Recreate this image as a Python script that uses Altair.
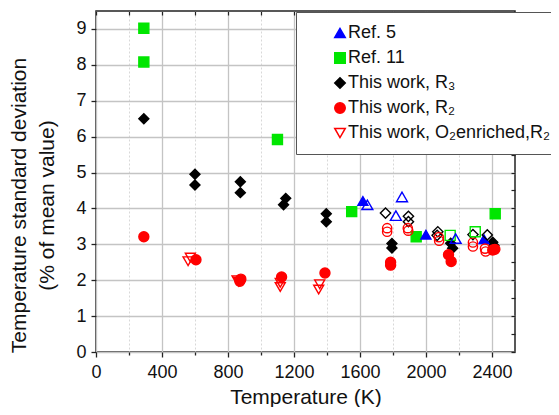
import altair as alt
import pandas as pd

# ---------------- data ----------------
S_REF5 = "Ref. 5"
S_REF11 = "Ref. 11"
S_R3 = "This work, R₃"
S_R2 = "This work, R₂"
S_O2 = "This work, O₂enriched,R₂"

# filled black diamonds (This work, R3)
r3_T = [290, 600, 600, 875, 875, 1150, 1137, 1396, 1396, 1794, 1794, 2150, 2162, 2405, 2412]
r3_v = [6.5, 4.95, 4.65, 4.74, 4.44, 4.28, 4.10, 3.85, 3.63, 3.02, 2.90, 3.03, 2.89, 3.06, 2.97]
# open black diamonds
r3o_T = [1755, 1894, 1894, 2072, 2068, 2285, 2372]
r3o_v = [3.87, 3.78, 3.63, 3.35, 3.25, 3.27, 3.26]
# open red circles
r2o_T = [1765, 1765, 1890, 1893, 2078, 2080, 2285, 2285, 2358, 2362]
r2o_v = [3.45, 3.35, 3.45, 3.38, 3.20, 3.10, 3.05, 2.94, 2.88, 2.80]
# filled red circles (This work, R2)
r2_T = [290, 606, 878, 872, 1125, 1388, 1786, 1786, 2137, 2153, 2405, 2418]
r2_v = [3.21, 2.57, 2.03, 1.97, 2.09, 2.20, 2.50, 2.42, 2.71, 2.52, 2.84, 2.86]
# open red down-triangles (O2 enriched, R2)
o2_T = [572, 558, 855, 865, 1117, 1117, 1356, 1350]
o2_v = [2.63, 2.53, 2.00, 1.96, 1.93, 1.81, 1.89, 1.74]
# filled green squares (Ref. 11)
ref11_T = [290, 290, 1100, 1550, 1941, 2420]
ref11_v = [9.02, 8.08, 5.92, 3.91, 3.21, 3.85]
# open green squares
ref11o_T = [2147, 2299]
ref11o_v = [3.25, 3.35]
# open blue triangles
ref5o_T = [1645, 1855, 1818, 2180]
ref5o_v = [4.10, 4.32, 3.80, 3.16]
# filled blue triangles (Ref. 5)
ref5_T = [1618, 2000, 2352]
ref5_v = [4.21, 3.27, 3.14]

legend_series = [S_REF5, S_REF11, S_R3, S_R2, S_O2]
legend_shapes = ["triangle-up", "square", "diamond", "circle", "triangle-down"]
legend_strokes = ["#0000ff", "#00e600", "#000000", "#ff0000", "#ff0000"]
legend_fills = ["#0000ff", "#00e600", "#000000", "#ff0000", "transparent"]

x_ticks = list(range(0, 2600, 200))
y_ticks = [i * 0.5 for i in range(0, 19)]

# ---------------- tables ----------------
def table(Ts, vs, name):
    return pd.DataFrame({"T": Ts, "v": vs, "series": [name] * len(Ts)})

df_legend = pd.concat([
    table(r3_T, r3_v, S_R3), table(r2_T, r2_v, S_R2), table(o2_T, o2_v, S_O2),
    table(ref11_T, ref11_v, S_REF11), table(ref5_T, ref5_v, S_REF5),
], ignore_index=True)

xscale = alt.Scale(domain=[0, 2540], nice=False, zero=False)
yscale = alt.Scale(domain=[0, 9.5], nice=False, zero=False)

x_major = "datum.value % 400 === 0"
y_major = "datum.value % 1 === 0"

x_axis = alt.Axis(
    values=x_ticks, format="d",
    labelExpr=f"{x_major} ? datum.label : ''",
    grid=True,
    gridColor={"condition": {"test": x_major, "value": "#c4c4c4"}, "value": "#d8d8d8"},
    gridDash={"condition": {"test": x_major, "value": []}, "value": [2, 2]},
    gridWidth={"condition": {"test": x_major, "value": 1.3}, "value": 1},
    tickSize={"condition": {"test": x_major, "value": 5}, "value": 3},
    tickColor="#222", tickWidth=1.3, domain=False,
    labelFont="Liberation Sans", labelFontSize=18, labelColor="#111",
    labelPadding=6, labelFlush=False, labelOverlap=False,
    title="Temperature (K)", titleFont="Liberation Sans", titleFontSize=21,
    titleFontWeight="normal", titleColor="#111",
    titleY=51, titleBaseline="alphabetic",
)
y_axis = alt.Axis(
    values=y_ticks, format="d",
    labelExpr=f"{y_major} ? datum.label : ''",
    grid=True,
    gridColor={"condition": {"test": y_major, "value": "#c4c4c4"}, "value": "#d8d8d8"},
    gridDash={"condition": {"test": y_major, "value": []}, "value": [2, 2]},
    gridWidth={"condition": {"test": y_major, "value": 1.3}, "value": 1},
    tickSize={"condition": {"test": y_major, "value": 5}, "value": 3},
    tickColor="#222", tickWidth=1.3, domain=False,
    labelFont="Liberation Sans", labelFontSize=18, labelColor="#111",
    labelPadding=5, labelFlush=False, labelOverlap=False,
    title=["Temperature standard deviation", "(% of mean value)"],
    titleFont="Liberation Sans", titleFontSize=21, titleFontWeight="normal",
    titleColor="#111", titleLineHeight=28, titleX=-67, titleY=194,
)

legend = alt.Legend(
    title=None, orient="none", legendX=200, legendY=1,
    fillColor="white", strokeColor="#555", padding=12, symbolOffset=23,
    labelOffset={"expr": "-1"}, rowPadding=7, labelFont="Liberation Sans",
    labelFontSize=18, labelColor="#111", symbolSize=110,
    symbolStrokeWidth=1.5, labelLimit=400,
)

X = alt.X("T:Q", scale=xscale, axis=x_axis)
Y = alt.Y("v:Q", scale=yscale, axis=y_axis)


def open_layer(Ts, vs, name, shape, color, size):
    return alt.Chart(table(Ts, vs, name)).mark_point(
        shape=shape, stroke=color, fill="transparent", filled=False,
        size=size, strokeWidth=1.4, opacity=1,
    ).encode(x=X, y=Y)


open_r3 = open_layer(r3o_T, r3o_v, "open R3", "diamond", "#000000", 105)
open_r2 = open_layer(r2o_T, r2o_v, "open R2", "circle", "#ff0000", 85)
open_11 = open_layer(ref11o_T, ref11o_v, "open Ref11", "square", "#00e600", 100)
open_5 = open_layer(ref5o_T, ref5o_v, "open Ref5", "triangle-up", "#0000ff", 120)

filled = alt.Chart(df_legend).mark_point(
    opacity=1, strokeWidth=1.4, size=100
).encode(
    x=X, y=Y,
    shape=alt.Shape("series:N", scale=alt.Scale(domain=legend_series, range=legend_shapes), legend=legend),
    stroke=alt.Stroke("series:N", scale=alt.Scale(domain=legend_series, range=legend_strokes), legend=legend),
    fill=alt.Fill("series:N", scale=alt.Scale(domain=legend_series, range=legend_fills), legend=legend),
)

frame = alt.Chart(df_legend).mark_point(opacity=0).encode(
    x=alt.X("T:Q", scale=xscale, axis=alt.Axis(
        orient="top", values=x_ticks, labels=False, title=None, grid=False,
        domain=False, tickSize=4, offset=-4, tickColor="#222", tickWidth=1.2)),
    y=alt.Y("v:Q", scale=yscale, axis=alt.Axis(
        orient="right", values=y_ticks, labels=False, title=None, grid=False,
        domain=False, tickSize=4, offset=-4, tickColor="#222", tickWidth=1.2)),
)

main = alt.layer(filled, open_r3, open_r2, open_11, open_5)

chart = alt.layer(frame, main).resolve_axis(
    x="independent", y="independent"
).properties(
    width=419, height=341,
    autosize=alt.AutoSizeParams(type="none"),
    padding={"left": 88, "top": 3, "right": 36, "bottom": 55},
).configure_view(
    stroke="#222", strokeWidth=1.5
).configure_axis(
    labelOverlap=False
)

chart.save("out.html", embed_options={"renderer": "svg", "actions": False})
